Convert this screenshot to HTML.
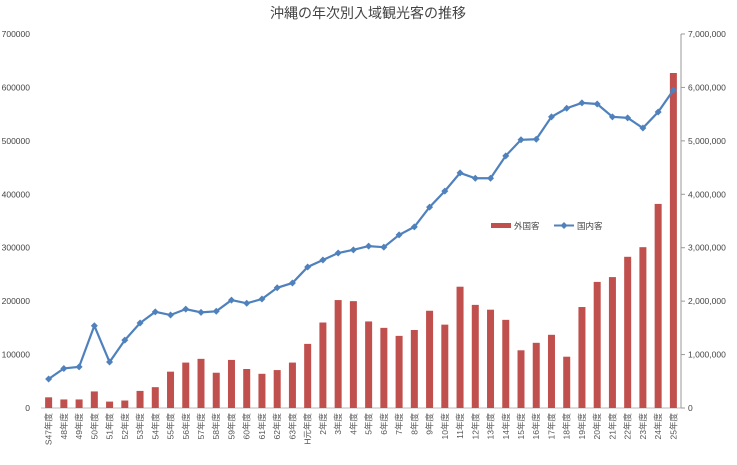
<!DOCTYPE html>
<html><head><meta charset="utf-8"><style>
body{margin:0;background:#fff;font-family:"Liberation Sans","Noto Sans CJK JP",sans-serif}
svg text{font-family:"Liberation Sans","Noto Sans CJK JP",sans-serif}
</style></head><body>
<svg id="c" width="737" height="460">
<text x="368" y="18" text-anchor="middle" font-size="14" fill="#444">沖縄の年次別入域観光客の推移</text>
</svg>
<script>
const categories=["S47年度","48年度","49年度","50年度","51年度","52年度","53年度","54年度","55年度","56年度","57年度","58年度","59年度","60年度","61年度","62年度","63年度","H元年度","2年度","3年度","4年度","5年度","6年度","7年度","8年度","9年度","10年度","11年度","12年度","13年度","14年度","15年度","16年度","17年度","18年度","19年度","20年度","21年度","22年度","23年度","24年度","25年度"];
const foreignVisitors=[20000,16000,16000,31000,12000,14000,32000,39000,68000,85000,92000,66000,90000,73000,64000,71000,85000,120000,160000,202000,200000,162000,150000,135000,146000,182000,156000,227000,193000,184000,165000,108000,122000,137000,96000,189000,236000,245000,283000,301000,382000,627000];
const domesticVisitors=[543000,740000,770000,1540000,860000,1270000,1590000,1800000,1740000,1850000,1790000,1810000,2020000,1960000,2040000,2250000,2340000,2640000,2770000,2900000,2960000,3030000,3010000,3240000,3390000,3760000,4060000,4400000,4300000,4300000,4720000,5020000,5030000,5450000,5610000,5710000,5690000,5450000,5430000,5240000,5540000,5950000];
const leftTicks=[0,100000,200000,300000,400000,500000,600000,700000];
const rightTicks=[0,1000000,2000000,3000000,4000000,5000000,6000000,7000000];
const NS="http://www.w3.org/2000/svg",svg=document.getElementById('c');
const L=41,R=681,T=34,B=408,bw=(R-L)/categories.length;
const xC=i=>L+bw*(i+0.5);
const yL=v=>B-(v/700000)*(B-T);
const yR=v=>B-(v/7000000)*(B-T);
function mk(t,a){const e=document.createElementNS(NS,t);for(const k in a)e.setAttribute(k,a[k]);svg.appendChild(e);return e;}
const fmt=v=>v.toLocaleString('en-US');
leftTicks.forEach(v=>{const t=mk('text',{x:30,y:yL(v)+3,'text-anchor':'end','font-size':'8.5',fill:'#444'});t.textContent=v;

});
rightTicks.forEach(v=>{const t=mk('text',{x:688,y:yR(v)+3,'font-size':'8.5',fill:'#444'});t.textContent=fmt(v);


mk('line',{x1:R,x2:R+4,y1:yR(v),y2:yR(v),stroke:'#999'});});
mk('line',{x1:L,x2:R,y1:B,y2:B,stroke:'#bbb'});
const ra=mk('line',{x1:R,x2:R,y1:T,y2:B,stroke:'#999'});


foreignVisitors.forEach((v,i)=>{const r=mk('rect',{x:xC(i)-3.5,y:yL(v),width:7,height:B-yL(v),fill:'#c0504d'});

});
const pts=domesticVisitors.map((v,i)=>xC(i)+','+yR(v)).join(' ');
const pl=mk('polyline',{points:pts,fill:'none',stroke:'#4f81bd','stroke-width':2.2});


domesticVisitors.forEach((v,i)=>{const x=xC(i),y=yR(v);const d=mk('polygon',{points:`${x},${y-3.5} ${x+3.5},${y} ${x},${y+3.5} ${x-3.5},${y}`,fill:'#4f81bd'});

});
categories.forEach((c,i)=>{const x=xC(i)+3,y=413;const t=mk('text',{x:x,y:y,'font-size':'8.5',fill:'#555',transform:`rotate(-90 ${x} ${y})`,'text-anchor':'end'});t.textContent=c;

});
const lg1=mk('rect',{x:491,y:223,width:20,height:5,fill:'#c0504d'});


const lt1=mk('text',{x:514,y:229,'font-size':'8.5',fill:'#444'});lt1.textContent='外国客';


mk('line',{x1:554,x2:574,y1:225.5,y2:225.5,stroke:'#4f81bd','stroke-width':2});
const lg2=mk('polygon',{points:'564,222 567.5,225.5 564,229 560.5,225.5',fill:'#4f81bd'});


const lt2=mk('text',{x:577,y:229,'font-size':'8.5',fill:'#444'});lt2.textContent='国内客';


</script>
</body></html>
